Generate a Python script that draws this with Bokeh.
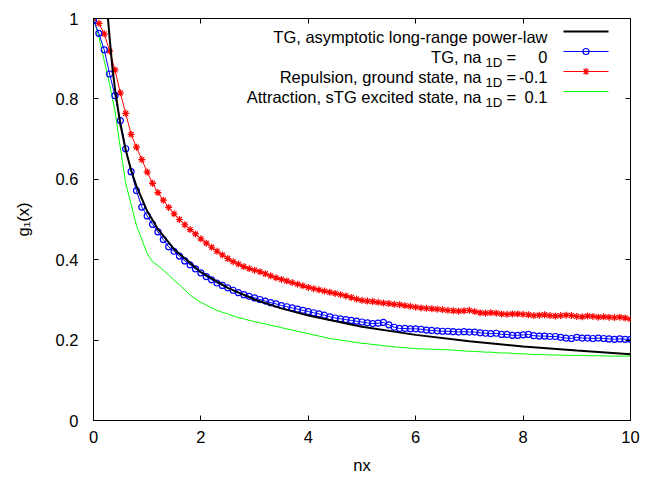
from bokeh.plotting import figure
from bokeh.models import Range1d, LinearAxis, FixedTicker, Label, CustomJSTickFormatter
from bokeh.embed import file_html
from bokeh.resources import INLINE

# ---------------- data ----------------
x_grid = [round(0.1 * i, 1) for i in range(101)]

tg_na0 = [0.995, 0.963, 0.922, 0.862, 0.808, 0.746, 0.676, 0.619, 0.572, 0.531,
          0.509, 0.488, 0.469, 0.450, 0.432, 0.421, 0.409, 0.397, 0.387, 0.377,
          0.367, 0.358, 0.350, 0.342, 0.336, 0.330, 0.324, 0.318, 0.313, 0.309,
          0.305, 0.301, 0.297, 0.293, 0.290, 0.286, 0.283, 0.280, 0.277, 0.274,
          0.271, 0.268, 0.265, 0.262, 0.258, 0.255, 0.253, 0.251, 0.249, 0.247,
          0.245, 0.243, 0.241, 0.242, 0.244, 0.238, 0.232, 0.229, 0.229, 0.228,
          0.228, 0.227, 0.225, 0.224, 0.223, 0.222, 0.222, 0.221, 0.220, 0.221,
          0.220, 0.220, 0.218, 0.217, 0.216, 0.217, 0.214, 0.214, 0.212, 0.212,
          0.213, 0.214, 0.211, 0.210, 0.210, 0.209, 0.209, 0.207, 0.205, 0.204,
          0.207, 0.205, 0.205, 0.204, 0.205, 0.204, 0.203, 0.202, 0.203, 0.202,
          0.202]

repulsion = [1.000, 0.988, 0.962, 0.919, 0.872, 0.815, 0.764, 0.712, 0.680, 0.649,
             0.618, 0.590, 0.567, 0.548, 0.530, 0.514, 0.500, 0.487, 0.475, 0.464,
             0.452, 0.441, 0.431, 0.421, 0.412, 0.403, 0.395, 0.389, 0.383, 0.378,
             0.374, 0.370, 0.365, 0.360, 0.355, 0.351, 0.347, 0.343, 0.339, 0.335,
             0.331, 0.328, 0.325, 0.322, 0.319, 0.316, 0.313, 0.310, 0.306, 0.302,
             0.299, 0.297, 0.296, 0.294, 0.292, 0.291, 0.289, 0.288, 0.286, 0.284,
             0.282, 0.280, 0.279, 0.278, 0.277, 0.276, 0.274, 0.273, 0.272, 0.273,
             0.274, 0.271, 0.268, 0.267, 0.268, 0.267, 0.265, 0.264, 0.265, 0.265,
             0.264, 0.263, 0.261, 0.262, 0.263, 0.261, 0.260, 0.261, 0.262, 0.261,
             0.259, 0.258, 0.260, 0.259, 0.257, 0.258, 0.257, 0.256, 0.257, 0.255,
             0.252]

attraction = [1.000, 0.955, 0.895, 0.836, 0.770, 0.678, 0.590, 0.538, 0.485, 0.450,
              0.415, 0.395, 0.385, 0.374, 0.362, 0.349, 0.338, 0.325, 0.312, 0.302,
              0.294, 0.287, 0.280, 0.274, 0.269, 0.265, 0.260, 0.256, 0.253, 0.249,
              0.246, 0.243, 0.240, 0.237, 0.234, 0.231, 0.228, 0.225, 0.222, 0.219,
              0.216, 0.213, 0.210, 0.207, 0.204, 0.202, 0.200, 0.198, 0.196, 0.194,
              0.192, 0.191, 0.189, 0.188, 0.186, 0.185, 0.183, 0.182, 0.181, 0.180,
              0.179, 0.178, 0.178, 0.177, 0.177, 0.176, 0.176, 0.175, 0.174, 0.173,
              0.172, 0.172, 0.171, 0.170, 0.170, 0.169, 0.168, 0.168, 0.167, 0.166,
              0.166, 0.165, 0.164, 0.164, 0.164, 0.163, 0.163, 0.163, 0.162, 0.162,
              0.162, 0.162, 0.161, 0.161, 0.161, 0.161, 0.160, 0.160, 0.160, 0.160,
              0.160]

asym_x = [0.27, 0.3, 0.35, 0.4, 0.5, 0.6, 0.7, 0.8, 1.0, 1.2, 1.5, 2.0, 2.5, 3.0,
          3.5, 4.0, 5.0, 6.0, 7.0, 8.0, 9.0, 10.0]
asym_y = [1.0, 0.952, 0.881, 0.824, 0.737, 0.673, 0.623, 0.583, 0.521, 0.476,
          0.426, 0.369, 0.330, 0.301, 0.279, 0.261, 0.233, 0.213, 0.197, 0.184,
          0.174, 0.165]

x_ticks = [0, 2, 4, 6, 8, 10]
y_ticks = [0, 0.2, 0.4, 0.6, 0.8, 1.0]
y_tick_labels = ["0", "0.2", "0.4", "0.6", "0.8", "1"]

legend_prefix = ["TG, asymptotic long-range power-law", "TG, na",
                 "Repulsion, ground state, na", "Attraction, sTG excited state, na"]
legend_value = ["", "0", "-0.1", "0.1"]

# ---------------- figure ----------------
FONT = "Liberation Sans"
FS = "16.5px"
L, R, T, B = 93, 21, 18, 60
W, H = 651, 480

p = figure(width=W, height=H, output_backend="svg", toolbar_location=None,
           x_range=Range1d(0, 10), y_range=Range1d(0, 1),
           min_border_left=L, min_border_right=R, min_border_top=T,
           min_border_bottom=B)
p.xgrid.visible = False
p.ygrid.visible = False
p.outline_line_color = "black"
p.outline_line_width = 1
p.background_fill_color = "white"
p.border_fill_color = "white"

for ax in (p.xaxis[0], p.yaxis[0]):
    ax.axis_line_color = None
    ax.major_tick_in = 5
    ax.major_tick_out = 0
    ax.minor_tick_line_color = None
    ax.major_tick_line_color = "black"
    ax.major_label_text_font = FONT
    ax.major_label_text_font_size = FS
    ax.major_label_text_color = "black"
    ax.axis_label_text_font = FONT
    ax.axis_label_text_font_size = FS
    ax.axis_label_text_font_style = "normal"
    ax.axis_label_text_color = "black"

p.xaxis[0].ticker = FixedTicker(ticks=x_ticks)
p.yaxis[0].ticker = FixedTicker(ticks=y_ticks)
p.yaxis[0].major_label_overrides = dict(zip(y_ticks, y_tick_labels))
p.xaxis[0].axis_label = "nx"
p.yaxis[0].axis_label = "g\u2081(x)"
p.xaxis[0].major_label_standoff = 10
p.xaxis[0].axis_label_standoff = 10
p.yaxis[0].major_label_standoff = 15
p.yaxis[0].axis_label_standoff = 21

# mirrored ticks (top / right)
for side, tks in (("above", x_ticks), ("right", y_ticks)):
    ax = LinearAxis(ticker=FixedTicker(ticks=tks),
                    formatter=CustomJSTickFormatter(code="return ''"))
    ax.axis_line_color = None
    ax.major_tick_in = 5
    ax.major_tick_out = 0
    ax.minor_tick_line_color = None
    ax.major_label_standoff = 0
    ax.major_label_text_font_size = "0px"
    p.add_layout(ax, side)

BLUE, RED, GREEN = "#0000ff", "#ff0000", "#00ff00"

# data series
p.line(x_grid, attraction, line_color=GREEN, line_width=1)
p.line(x_grid, repulsion, line_color=RED, line_width=1)
p.scatter(x_grid, repulsion, marker="asterisk", size=7, line_color=RED, line_width=1.2)
p.line(x_grid, tg_na0, line_color=BLUE, line_width=1)
p.scatter(x_grid, tg_na0, marker="circle", size=6, fill_color=None,
          line_color=BLUE, line_width=1.2)
p.line(asym_x, asym_y, line_color="black", line_width=2)

# ---------------- legend (gnuplot style, right-aligned text) ----------------
PX_PER_X = (W - L - R) / 10.0
PX_PER_Y = (H - T - B) / 1.0


def dx(px):
    return (px - L) / PX_PER_X


def dy(py):
    return (H - B - py) / PX_PER_Y


rows_py = [31, 51, 71, 91]
text_end = 547
prefix_end = 481
sub_start = 485
eq_start = 506
sample_x0, sample_x1 = 563, 608
colors = ["black", BLUE, RED, GREEN]
widths = [2, 1, 1, 1]

for i, py in enumerate(rows_py):
    base = dy(py + 5.5)
    if i == 0:
        p.add_layout(Label(x=dx(text_end), y=base, text=legend_prefix[0],
                           text_align="right", text_baseline="alphabetic",
                           text_font=FONT, text_font_size=FS, text_color="black"))
    else:
        p.add_layout(Label(x=dx(prefix_end), y=base, text=legend_prefix[i],
                           text_align="right", text_baseline="alphabetic",
                           text_font=FONT, text_font_size=FS, text_color="black"))
        p.add_layout(Label(x=dx(sub_start), y=dy(py + 10.5), text="1D",
                           text_align="left", text_baseline="alphabetic",
                           text_font=FONT, text_font_size="13.2px", text_color="black"))
        p.add_layout(Label(x=dx(eq_start), y=base, text="=",
                           text_align="left", text_baseline="alphabetic",
                           text_font=FONT, text_font_size=FS, text_color="black"))
        p.add_layout(Label(x=dx(text_end), y=base, text=legend_value[i],
                           text_align="right", text_baseline="alphabetic",
                           text_font=FONT, text_font_size=FS, text_color="black"))
    p.line([dx(sample_x0), dx(sample_x1)], [dy(py), dy(py)],
           line_color=colors[i], line_width=widths[i])
    mid = dx((sample_x0 + sample_x1) / 2)
    if i == 1:
        p.scatter([mid], [dy(py)], marker="circle", size=6, fill_color=None,
                  line_color=BLUE, line_width=1.2)
    if i == 2:
        p.scatter([mid], [dy(py)], marker="asterisk", size=7, line_color=RED,
                  line_width=1.2)

open("out.html", "w").write(file_html(p, INLINE))
